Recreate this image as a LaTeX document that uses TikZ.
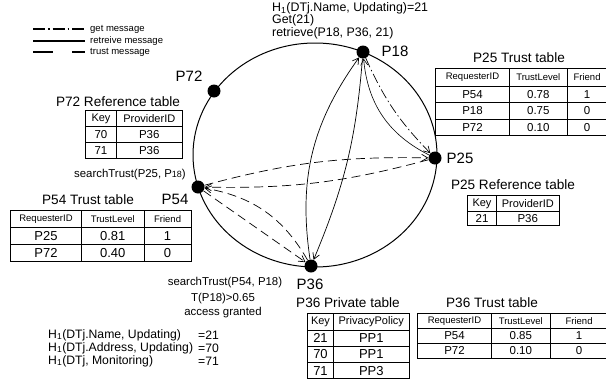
\documentclass[tikz,border=0pt]{standalone}
\usepackage{fontspec}
\setmainfont{Liberation Sans}
\usetikzlibrary{matrix,arrows.meta}
\begin{document}
\begin{tikzpicture}[x=1pt,y=-1pt,
  dot/.style={circle, fill=black, inner sep=0pt, minimum size=13pt},
  plabel/.style={font=\fontsize{15}{15}\selectfont, inner sep=0pt},
  ttl/.style={font=\fontsize{13.6}{14}\selectfont, inner sep=0pt},
  txt/.style={font=\fontsize{11.4}{12}\selectfont, inner sep=0pt},
  toptxt/.style={font=\fontsize{12.4}{12}\selectfont, inner sep=0pt, anchor=west,
    text height=9pt, text depth=2.4pt},
  btxt/.style={font=\fontsize{12.2}{13}\selectfont, inner sep=0pt, anchor=west},
  lgd/.style={font=\fontsize{9.5}{10}\selectfont, inner sep=0pt, anchor=west},
  tip/.style={-{Straight Barb[length=6pt,width=7pt]}},
  getline/.style={line width=0.7pt, dash pattern=on 10pt off 3pt on 1.5pt off 3pt},
  retline/.style={line width=0.7pt},
  trustline/.style={line width=0.7pt, dash pattern=on 9pt off 5pt},
  tbl/.style={matrix of nodes, anchor=north west, inner sep=0pt,
    column sep=-0.8pt, row sep=-0.8pt,
    nodes={draw, line width=0.8pt, inner sep=0pt, anchor=center}},
  hd/.style={font=\fontsize{9.5}{10}\selectfont},
  hdb/.style={font=\fontsize{11}{11}\selectfont},
  cell/.style={font=\fontsize{11.5}{12}\selectfont},
  cellb/.style={font=\fontsize{13}{13}\selectfont},
]
\useasboundingbox (0,0) rectangle (606,381);

% legend
\coordinate (la1) at (33,29); \coordinate (lb1) at (85,29);
\coordinate (la2) at (33,41); \coordinate (lb2) at (85,41);
\coordinate (la3) at (33,52); \coordinate (lb3) at (85,52);
\draw[line width=1.3pt, dash pattern=on 12pt off 3pt on 1.5pt off 3pt] (la1) -- (lb1);
\draw[line width=1.3pt] (la2) -- (lb2);
\draw[line width=1.3pt, dash pattern=on 20pt off 19pt] (la3) -- (lb3);
\node[lgd] (lt1) at (90,29) {get message};
\node[lgd] (lt2) at (90,41) {retreive message};
\node[lgd] (lt3) at (90,52) {trust message};

% top text
\node[toptxt] (t1) at (272,8) {H\textsubscript{1}(DTj.Name, Updating)=21};
\node[toptxt] (t2) at (272,20.5) {Get(21)};
\node[toptxt] (t3) at (272,33) {retrieve(P18, P36, 21)};

% ring
\draw[line width=1pt] (315,155) ellipse [x radius=122pt, y radius=112pt];

\node[dot] (p18) at (363,52) {};
\node[dot] (p25) at (435,158) {};
\node[dot] (p54) at (198,187) {};
\node[dot] (p36) at (311,266) {};
\node[dot] (p72) at (214,91) {};

\node[plabel] (lp18) at (395,51) {P18};
\node[plabel] (lp25) at (460,158) {P25};
\node[plabel] (lp72) at (189,76) {P72};
\node[plabel] (lp54) at (175,199) {P54};
\node[plabel] (lp36) at (310,284) {P36};

% messages
\draw[retline, tip] (p36) to[bend left=22] (p18);
\draw[retline, tip] (p18) to[bend left=9] (p36);
\draw[getline, tip] (p18) to[bend right=10] (p25);
\draw[retline, line width=0.6pt, tip] (p25) to[bend left=29] (p18);
\draw[trustline, tip] (p54) to[bend left=8] (p25);
\draw[trustline, tip] (p25) to[bend left=8] (p54);
\draw[trustline, tip] (p54) -- (p36);
\draw[trustline, tip] (p36) to[bend right=25] (p54);

% texts
\node[txt] (st1) at (130,175) {searchTrust(P25, P{\fontsize{9}{9}\selectfont 18})};
\node[txt] (st2) at (225,283) {searchTrust(P54, P18)};
\node[txt] (st3) at (223,299) {T(P18)>0.65};
\node[txt] (st4) at (223,313) {access granted};

\node[btxt] (h1) at (48,335) {H\textsubscript{1}(DTj.Name, Updating)};
\node[btxt] (h2) at (48,348) {H\textsubscript{1}(DTj.Address, Updating)};
\node[btxt] (h3) at (48,361) {H\textsubscript{1}(DTj, Monitoring)};
\node[btxt] (e1) at (198,335) {=21};
\node[btxt] (e2) at (198,348) {=70};
\node[btxt] (e3) at (198,361) {=71};

% P25 Trust table
\node[ttl] (tt25) at (519,58) {P25 Trust table};
\matrix[tbl, column 1/.style={nodes={minimum width=73.8pt}},
  column 2/.style={nodes={minimum width=57.8pt}},
  column 3/.style={nodes={minimum width=39.8pt}},
  row 1/.style={nodes={minimum height=17.8pt, hd}},
  row 2/.style={nodes={minimum height=16.3pt, cell}},
  row 3/.style={nodes={minimum height=16.3pt, cell}},
  row 4/.style={nodes={minimum height=16.3pt, cell}}] (m25) at (435,68) {
  RequesterID & TrustLevel & Friend \\
  P54 & 0.78 & 1 \\
  P18 & 0.75 & 0 \\
  P72 & 0.10 & 0 \\
};

% P25 Reference table
\node[ttl] (rt25) at (513,185) {P25 Reference table};
\matrix[tbl, column 1/.style={nodes={minimum width=28.8pt}},
  column 2/.style={nodes={minimum width=62.8pt}},
  row 1/.style={nodes={minimum height=15.8pt, hdb}},
  row 2/.style={nodes={minimum height=13.8pt, cell}}] (r25) at (467,195) {
  Key & ProviderID \\
  21 & P36 \\
};

% P72 Reference table
\node[ttl] (rt72) at (118,102) {P72 Reference table};
\matrix[tbl, column 1/.style={nodes={minimum width=30.8pt}},
  column 2/.style={nodes={minimum width=65.8pt}},
  row 1/.style={nodes={minimum height=15.8pt, hdb}},
  row 2/.style={nodes={minimum height=15.8pt, cell}},
  row 3/.style={nodes={minimum height=15.8pt, cell}}] (r72) at (85,110) {
  Key & ProviderID \\
  70 & P36 \\
  71 & P36 \\
};

% P54 Trust table
\node[ttl] (tt54) at (88,200) {P54 Trust table};
\matrix[tbl, column 1/.style={nodes={minimum width=70.8pt}},
  column 2/.style={nodes={minimum width=62.8pt}},
  column 3/.style={nodes={minimum width=46.8pt}},
  row 1/.style={nodes={minimum height=16.8pt, hd}},
  row 2/.style={nodes={minimum height=16.8pt, cellb}},
  row 3/.style={nodes={minimum height=16.8pt, cellb}}] (m54) at (10,210) {
  RequesterID & TrustLevel & Friend \\
  P25 & 0.81 & 1 \\
  P72 & 0.40 & 0 \\
};

% P36 Private table
\node[ttl] (pt36) at (348,303) {P36 Private table};
\matrix[tbl, column 1/.style={nodes={minimum width=25.8pt}},
  column 2/.style={nodes={minimum width=75.8pt}},
  row 1/.style={nodes={minimum height=16.3pt, hdb}},
  row 2/.style={nodes={minimum height=16.3pt, cellb}},
  row 3/.style={nodes={minimum height=16.3pt, cellb}},
  row 4/.style={nodes={minimum height=16.3pt, cellb}}] (p36t) at (307,313) {
  Key & PrivacyPolicy \\
  21 & PP1 \\
  70 & PP1 \\
  71 & PP3 \\
};

% P36 Trust table
\node[ttl] (tt36) at (492,303) {P36 Trust table};
\matrix[tbl, column 1/.style={nodes={minimum width=73.8pt}},
  column 2/.style={nodes={minimum width=58.8pt}},
  column 3/.style={nodes={minimum width=57.8pt}},
  row 1/.style={nodes={minimum height=14.8pt, hd}},
  row 2/.style={nodes={minimum height=14.8pt, cell}},
  row 3/.style={nodes={minimum height=14.8pt, cell}}] (m36) at (417,313) {
  RequesterID & TrustLevel & Friend \\
  P54 & 0.85 & 1 \\
  P72 & 0.10 & 0 \\
};
\end{tikzpicture}
\end{document}
